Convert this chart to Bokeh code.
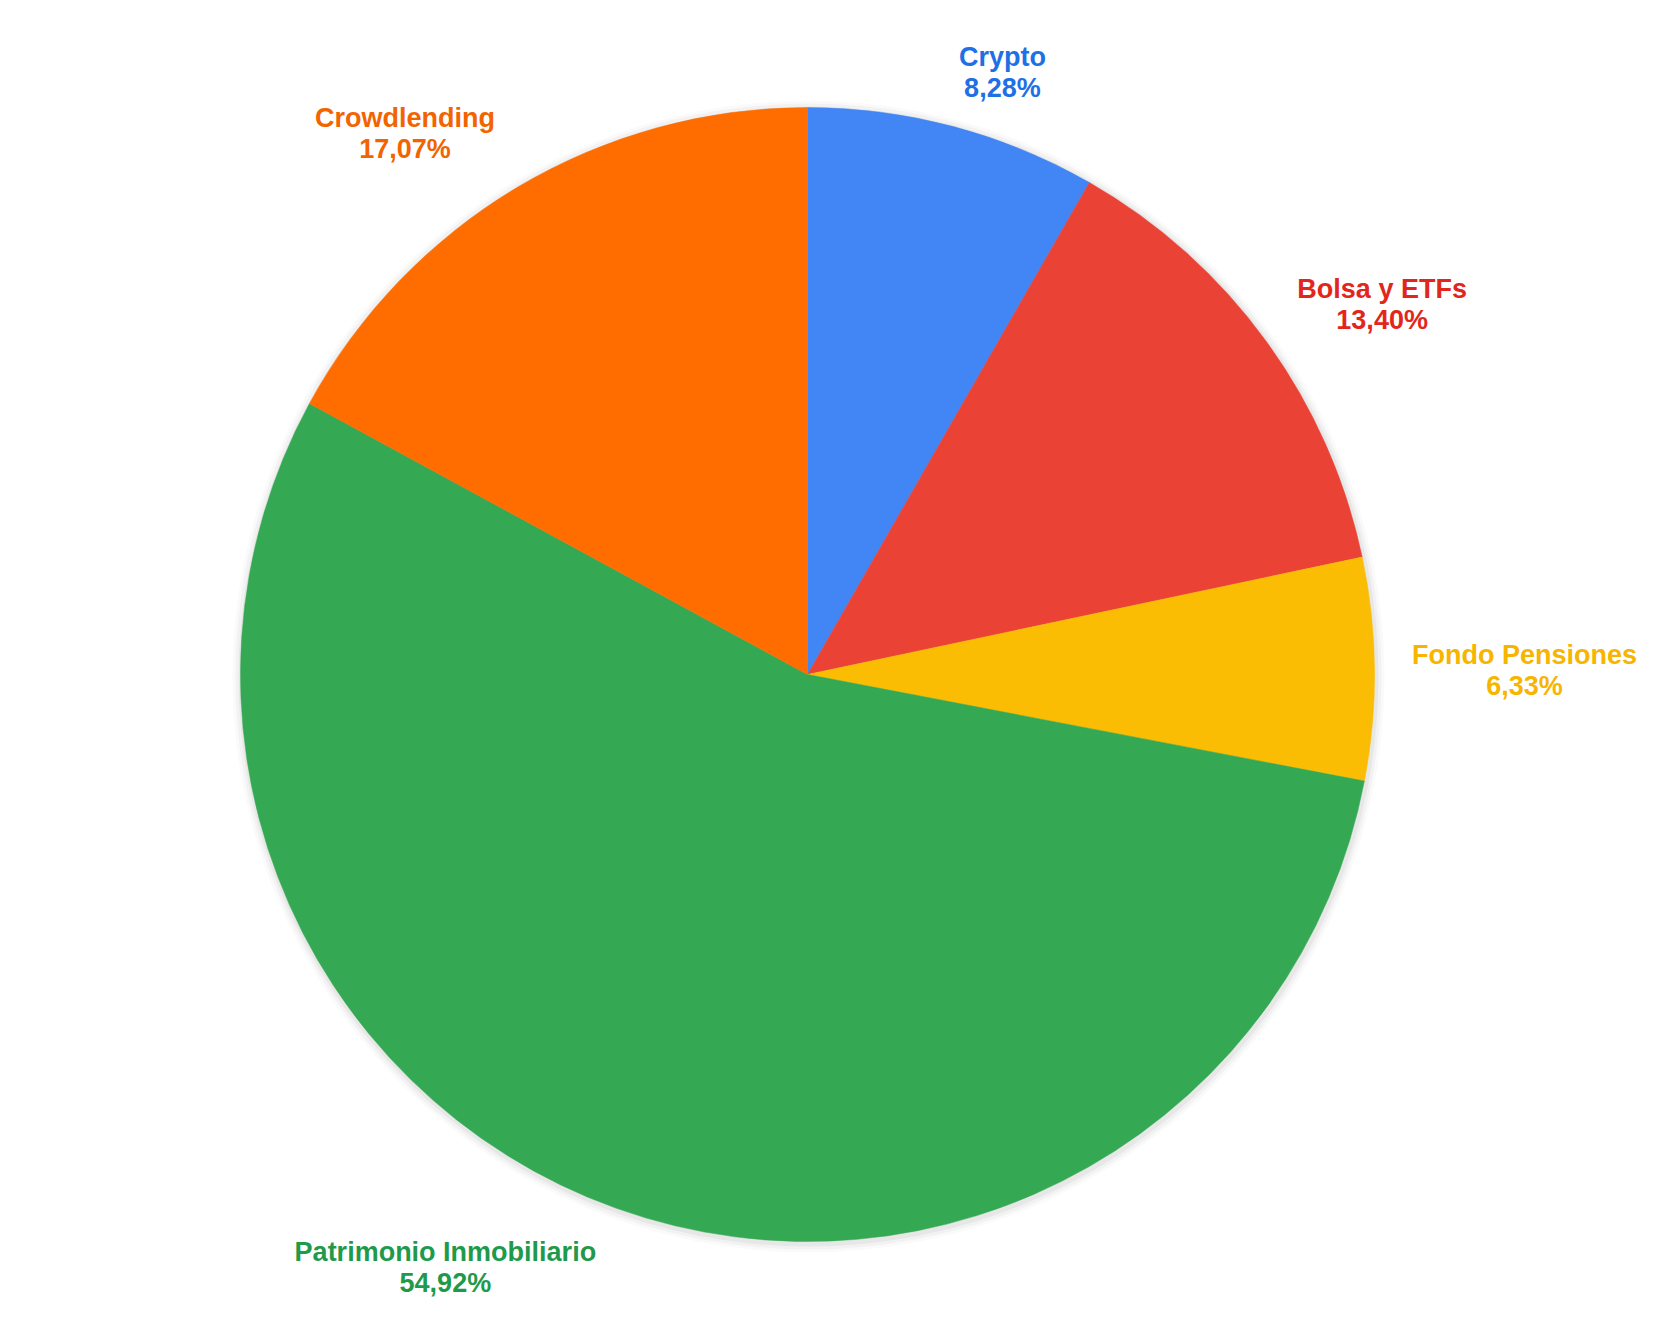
import numpy as np
from bokeh.plotting import figure
from bokeh.models import Range1d, ColumnDataSource
from bokeh.embed import file_html
from bokeh.resources import INLINE
from bokeh.core.properties import value

# ---- data ----
categories = ["Crypto", "Bolsa y ETFs", "Fondo Pensiones", "Patrimonio Inmobiliario", "Crowdlending"]
shares = [8.28, 13.40, 6.33, 54.92, 17.07]

# ---- styles ----
slice_colors = ["#4285F4", "#EA4335", "#FBBC04", "#34A853", "#FF6D01"]
label_colors = ["#1F6FE5", "#E3261C", "#F7B500", "#1F9A4B", "#F26400"]
# label nudges (screen px) relative to the mid-angle anchor
label_nudge_x = [20, 25, 37, -133, -55]
label_nudge_y = [55, 30, 3, -47, 44]  # positive = down

W, H = 1646, 1306
CX, CY_TOP = 807, 674          # pixel centre in page coordinates
R = 567
LABEL_R = 680

cx = CX
cy = 1322 - CY_TOP

p = figure(width=W, height=H, output_backend="svg", toolbar_location=None,
           x_range=Range1d(0, W), y_range=Range1d(1322 - H, 1322),
           min_border=0)
p.axis.visible = False
p.grid.visible = False
p.outline_line_color = None
p.background_fill_color = "white"
p.border_fill_color = "white"

# soft shadow
for dr, a in [(9, 0.05), (6, 0.08), (3, 0.12)]:
    p.circle(x=[cx + 1], y=[cy - 2], radius=R + dr, fill_color="#9e9e9e",
             fill_alpha=a, line_color=None)

vals = np.array(shares, dtype=float)
fr = vals / vals.sum()
cum = np.concatenate([[0.0], np.cumsum(fr)])
start = np.pi / 2 - 2 * np.pi * cum[:-1]
end = np.pi / 2 - 2 * np.pi * cum[1:]
mid = (start + end) / 2

src = ColumnDataSource(dict(start=start, end=end, color=slice_colors))
p.wedge(x=cx, y=cy, radius=R, start_angle="start", end_angle="end",
        direction="clock", fill_color="color", line_color="color",
        line_width=0.5, source=src)

lx = cx + LABEL_R * np.cos(mid) + np.array(label_nudge_x)
ly = cy + LABEL_R * np.sin(mid) - np.array(label_nudge_y)
names = list(categories)
pcts = [f"{v:.2f}".replace(".", ",") + "%" for v in shares]
lsrc = ColumnDataSource(dict(x=lx, y=ly, name=names, pct=pcts, color=label_colors))

common = dict(text_font=value("Liberation Sans"), text_font_style="bold",
              text_font_size="27px", text_align="center", text_baseline="middle",
              text_color="color", source=lsrc)
p.text(x="x", y="y", text="name", y_offset=-15.5, **common)
p.text(x="x", y="y", text="pct", y_offset=15.5, **common)

open("out.html", "w").write(file_html(p, INLINE))
